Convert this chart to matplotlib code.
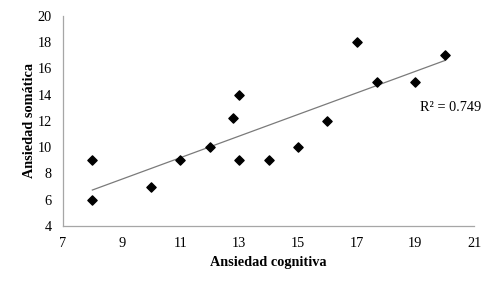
import numpy as np
import matplotlib.pyplot as plt

# datos
ansiedad_cognitiva = [8, 8, 10, 11, 12, 12.8, 13, 13, 14, 15, 16, 17, 17.7, 19, 20]
ansiedad_somatica = [9, 6, 7, 9, 10, 12.2, 14, 9, 9, 10, 12, 18, 15, 15, 17]
x_ticks = [7, 9, 11, 13, 15, 17, 19, 21]
y_ticks = [4, 6, 8, 10, 12, 14, 16, 18, 20]

plt.rcParams['font.family'] = ['Liberation Serif', 'DejaVu Serif']

fig = plt.figure(figsize=(4.96, 2.87), dpi=100)
ax = fig.add_axes([0.127, 0.2125, 0.829, 0.732])

x = np.array(ansiedad_cognitiva)
y = np.array(ansiedad_somatica)
ax.scatter(x, y, marker='D', s=22, color='black', zorder=3)

# línea de tendencia lineal
m, b = np.polyfit(x, y, 1)
xl = np.array([x.min(), x.max()])
ax.plot(xl, m * xl + b, color='#7a7a7a', linewidth=0.9)

ax.text(19.15, 13, 'R² = 0.749', fontsize=10.3, va='center', ha='left')

ax.set_xlim(7, 21)
ax.set_ylim(4, 20)
ax.set_xticks(x_ticks)
ax.set_yticks(y_ticks)
ax.tick_params(length=0, labelsize=10.3, pad=8)
for s in ['top', 'right']:
    ax.spines[s].set_visible(False)
for s in ['left', 'bottom']:
    ax.spines[s].set_color('#a6a6a6')
    ax.spines[s].set_linewidth(0.9)

ax.set_xlabel('Ansiedad cognitiva', fontsize=10.3, fontweight='bold', labelpad=4)
ax.set_ylabel('Ansiedad somática', fontsize=10.3, fontweight='bold', labelpad=1)

fig.savefig('out.png', dpi=100)
